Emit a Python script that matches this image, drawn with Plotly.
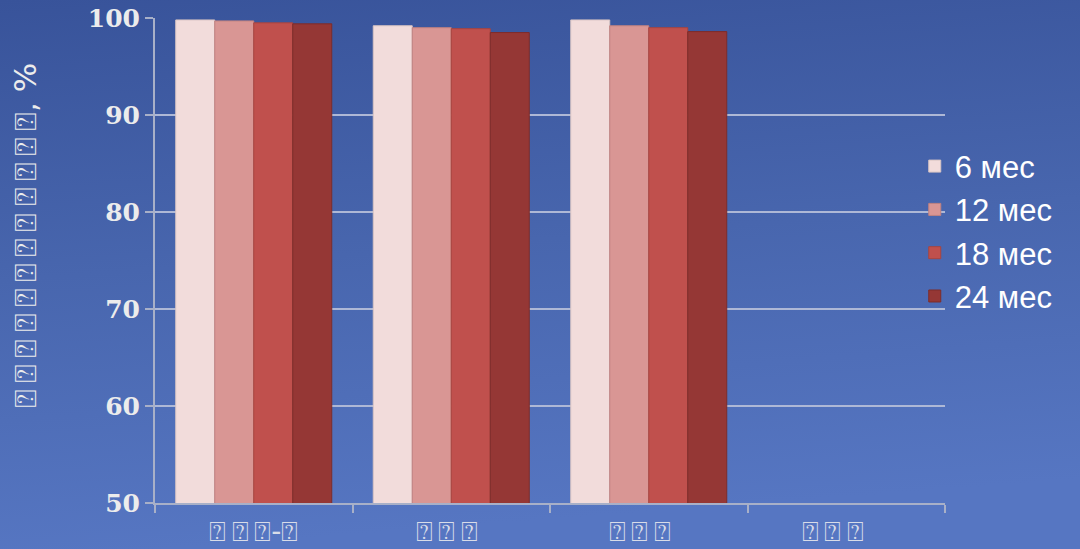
import urllib.parse
import plotly.graph_objects as go

T = "\u2009"  # thin space between the box glyphs
B = "⍰"

# Categories (labels rendered as missing-glyph boxes) and survival values, %
categories = [T.join([B, B, B]) + "-" + B, T.join([B] * 3) + " ", T.join([B] * 3) + "  ", T.join([B] * 3) + "   "]
series_names = ["6 мес", "12 мес", "18 мес", "24 мес"]
values_6 = [99.8, 99.2, 99.8, None]
values_12 = [99.7, 99.0, 99.2, None]
values_18 = [99.5, 98.9, 99.0, None]
values_24 = [99.4, 98.5, 98.6, None]
y_ticks = [50, 60, 70, 80, 90, 100]
y_title = T.join([B] * 12) + ", %"

colors = ["#F2DCDB", "#D99694", "#C0504D", "#953735"]
edges = ["#D8C4C3", "#C08280", "#A8443F", "#7E2C2A"]

W, H = 1080, 549

fig = go.Figure()
for name, vals, c, e in zip(series_names, [values_6, values_12, values_18, values_24], colors, edges):
    fig.add_trace(go.Bar(
        x=categories, y=vals, name=name,
        marker=dict(color=c, line=dict(color=e, width=1)),
    ))

# Blue gradient backdrop as an inline SVG image
svg = (
    "<svg xmlns='http://www.w3.org/2000/svg' width='1080' height='549'>"
    "<defs><linearGradient id='g' x1='0' y1='0' x2='0.15' y2='1'>"
    "<stop offset='0' stop-color='#38539A'/>"
    "<stop offset='0.5' stop-color='#4866AE'/>"
    "<stop offset='1' stop-color='#5676C2'/>"
    "</linearGradient></defs>"
    "<rect width='1080' height='549' fill='url(#g)'/></svg>"
)
bg_uri = "data:image/svg+xml;charset=utf-8," + urllib.parse.quote(svg)

x0, x1 = 155 / W, 945 / W
y0, y1 = (H - 503) / H, (H - 18) / H

box_font = "DejaVu Sans"

fig.update_layout(
    width=W, height=H,
    margin=dict(l=0, r=0, t=0, b=0),
    paper_bgcolor="#4866AE",
    plot_bgcolor="rgba(0,0,0,0)",
    barmode="group",
    bargap=0.21,
    bargroupgap=0,
    images=[dict(source=bg_uri, xref="paper", yref="paper", x=0, y=1,
                 sizex=1, sizey=1, sizing="stretch", layer="below",
                 xanchor="left", yanchor="top")],
    xaxis=dict(
        domain=[x0, x1], automargin=False,
        showline=True, linecolor="#A8B0C8", linewidth=2,
        ticks="outside", tickson="boundaries", ticklen=8, tickcolor="#A8B0C8", tickwidth=2,
        tickfont=dict(family=box_font, size=28, color="#D8DCE8"),
        ticklabelstandoff=2,
        showgrid=False,
    ),
    yaxis=dict(
        domain=[y0, y1], automargin=False,
        range=[50, 100], tickvals=y_ticks,
        showline=True, linecolor="#A8B0C8", linewidth=2,
        ticks="outside", ticklen=8, tickcolor="#A8B0C8", tickwidth=2,
        tickfont=dict(family="DejaVu Serif", size=25, color="#ECECEC", weight="bold"),
        showgrid=True, gridcolor="#AEB8D6", gridwidth=1.5,
        zeroline=False,
    ),
    annotations=[dict(
        text=y_title, textangle=-90, xref="paper", yref="paper",
        x=25 / W, y=(H - 236) / H, xanchor="center", yanchor="middle",
        showarrow=False,
        font=dict(family=box_font, size=31, color="#ECECEC"),
    )],
    legend=dict(
        x=0.847, y=0.746, xanchor="left", yanchor="top",
        bgcolor="rgba(0,0,0,0)",
        font=dict(family="Liberation Sans, Arial", size=31, color="#FFFFFF"),
        itemwidth=30, tracegroupgap=0,
        traceorder="normal",
    ),
    showlegend=True,
)

fig.write_html("out.html")
